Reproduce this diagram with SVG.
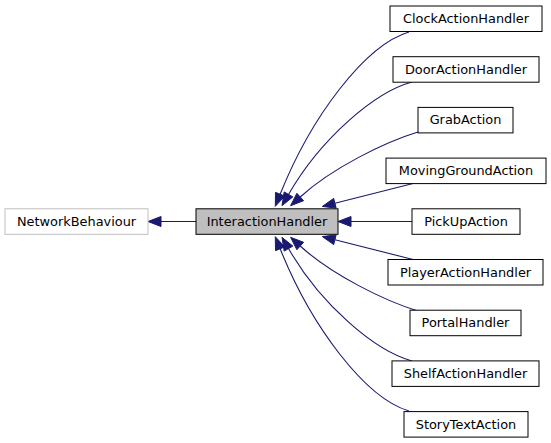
<svg xmlns="http://www.w3.org/2000/svg" width="551" height="443" viewBox="0 0 551 443">
<style>
.node rect{fill:#ffffff;stroke:#000000;stroke-width:1}
.node text{font-family:"DejaVu Sans",sans-serif;font-size:12.9px;fill:#000000;text-anchor:middle}
#n_network rect{stroke:#bfbfbf}
#n_interaction rect{fill:#bfbfbf}
.edges path{fill:none;stroke:#191970;stroke-width:1.1}
.edges polygon{fill:#191970;stroke:#191970;stroke-width:1}
</style>
<rect x="0" y="0" width="551" height="443" fill="#ffffff"/>
<g class="edges">
<path d="M196,221.5 L161,221.5"/>
<polygon points="161,216.5 148,221.5 161,226.5"/>
<path d="M409,32 C365,45 311,117 280.15,194.24"/>
<polygon points="284.79,196.1 275.3,206.3 275.51,192.37"/>
<path d="M412,82 C375,92 321,138 288.5,194.4"/>
<polygon points="292.84,196.9 282,205.65 284.18,191.9"/>
<path d="M418,132 C385,142 332,168 300.23,196.98"/>
<polygon points="303.59,200.69 290.6,205.7 296.87,193.27"/>
<path d="M415,183 L334.91,203.27"/>
<polygon points="336.14,208.12 322.3,206.45 333.68,198.42"/>
<path d="M412,221.5 L351,221.5"/>
<polygon points="351,216.5 338,221.5 351,226.5"/>
<path d="M415,260 L334.91,239.73"/>
<polygon points="336.14,234.88 322.3,236.55 333.68,244.58"/>
<path d="M418,311 C385,301 332,275 300.23,246.02"/>
<polygon points="303.59,242.31 290.6,237.3 296.87,249.73"/>
<path d="M412,361 C375,351 321,305 288.5,248.6"/>
<polygon points="292.84,246.1 282,237.35 284.18,251.1"/>
<path d="M409,411 C365,398 311,326 280.15,248.76"/>
<polygon points="284.79,246.9 275.3,236.7 275.51,250.63"/>
</g>
<g id="n_network" class="node"><rect x="5" y="208.8" width="143" height="25.5"/><text x="76.5" y="225.8">NetworkBehaviour</text></g>
<g id="n_interaction" class="node"><rect x="196" y="208.8" width="142" height="25.5"/><text x="267" y="225.8">InteractionHandler</text></g>
<g id="n_clock" class="node"><rect x="390" y="6" width="152" height="25.5"/><text x="466" y="23">ClockActionHandler</text></g>
<g id="n_door" class="node"><rect x="393" y="56.7" width="146" height="25.5"/><text x="466" y="73.7">DoorActionHandler</text></g>
<g id="n_grab" class="node"><rect x="418" y="107.4" width="95" height="25.5"/><text x="465.5" y="124.4">GrabAction</text></g>
<g id="n_moving" class="node"><rect x="386" y="158.1" width="160" height="25.5"/><text x="466" y="175.1">MovingGroundAction</text></g>
<g id="n_pickup" class="node"><rect x="412" y="208.8" width="108" height="25.5"/><text x="466" y="225.8">PickUpAction</text></g>
<g id="n_player" class="node"><rect x="388" y="259.5" width="155" height="25.5"/><text x="465.5" y="276.5">PlayerActionHandler</text></g>
<g id="n_portal" class="node"><rect x="410" y="310.2" width="111" height="25.5"/><text x="465.5" y="327.2">PortalHandler</text></g>
<g id="n_shelf" class="node"><rect x="392" y="360.9" width="147" height="25.5"/><text x="465.5" y="377.9">ShelfActionHandler</text></g>
<g id="n_story" class="node"><rect x="404" y="411.6" width="124" height="25.5"/><text x="466" y="428.6">StoryTextAction</text></g>
</svg>
